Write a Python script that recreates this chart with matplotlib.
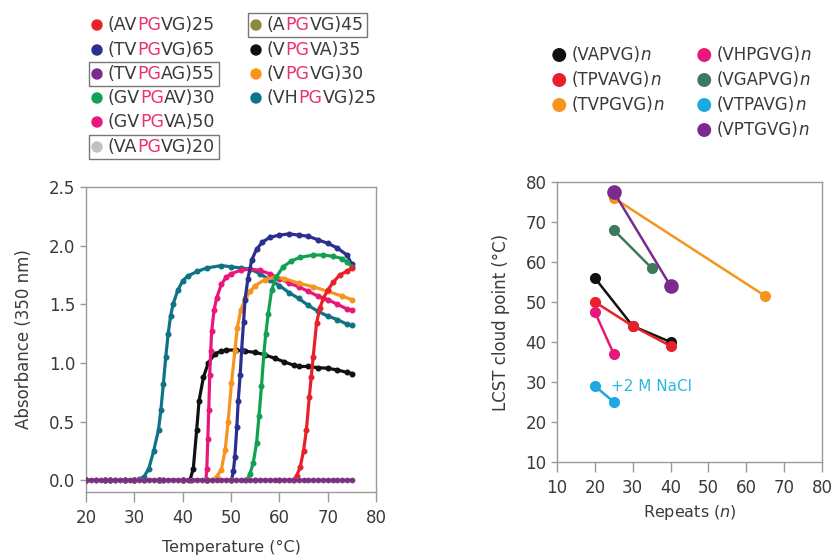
import matplotlib
matplotlib.use("Agg")
import matplotlib.pyplot as plt
from matplotlib.offsetbox import TextArea, HPacker, DrawingArea, AnnotationBbox
from matplotlib.patches import Circle

plt.rcParams['font.family'] = ['DejaVu Sans']

# ---------------- Data: left panel (absorbance vs temperature) ----------------
flat_T = [20, 21, 22, 23, 24, 25, 26, 27, 28, 29, 30, 31, 32, 33, 34, 35, 36, 37, 38, 39,
          40, 41, 42, 43, 44, 45, 46, 47, 48, 49, 50, 51, 52, 53, 54, 55, 56, 57, 58, 59,
          60, 61, 62, 63, 64, 65, 66, 67, 68, 69, 70, 71, 72, 73, 74, 75]
flat_A = [0.0] * len(flat_T)

teal_T = [20, 22, 24, 26, 28, 30, 31, 32, 33, 34, 35, 35.5, 36, 36.5, 37, 37.5, 38, 39, 40, 41,
          43, 45, 48, 50, 52, 54, 56, 58, 60, 62, 64, 66, 68, 70, 72, 74, 75]
teal_A = [0, 0, 0, 0, 0, 0, 0.01, 0.03, 0.1, 0.25, 0.43, 0.6, 0.82, 1.05, 1.25, 1.4, 1.5, 1.62, 1.7, 1.74,
          1.78, 1.81, 1.83, 1.82, 1.81, 1.8, 1.76, 1.71, 1.66, 1.6, 1.55, 1.49, 1.44, 1.4, 1.37, 1.33, 1.32]

black_T = [20, 24, 28, 32, 36, 40, 41.5, 42.2, 42.9, 43.4, 44.3, 45.3, 46.7, 48, 49, 51, 53, 55, 57, 59,
           61, 63, 64, 66, 68, 70, 72, 74, 75]
black_A = [0, 0, 0, 0, 0, 0, 0, 0.1, 0.43, 0.68, 0.88, 1.0, 1.08, 1.1, 1.11, 1.11, 1.1, 1.09, 1.07, 1.04,
           1.01, 0.98, 0.97, 0.97, 0.96, 0.955, 0.94, 0.92, 0.91]

pink_T = [20, 25, 30, 35, 40, 44.8, 45.0, 45.2, 45.4, 45.6, 45.8, 46, 46.5, 47, 48, 49, 50, 52, 54, 56,
          58, 60, 62, 64, 66, 68, 70, 72, 74, 75]
pink_A = [0, 0, 0, 0, 0, 0, 0.1, 0.35, 0.6, 0.9, 1.1, 1.27, 1.45, 1.55, 1.67, 1.73, 1.76, 1.79, 1.8, 1.79,
          1.76, 1.72, 1.68, 1.65, 1.61, 1.57, 1.54, 1.5, 1.46, 1.45]

orange_T = [20, 25, 30, 35, 40, 45, 46.3, 47, 48, 48.8, 49.4, 50.1, 50.8, 51.3, 52, 53, 54, 55, 57, 59,
            61, 64, 67, 70, 73, 75]
orange_A = [0, 0, 0, 0, 0, 0, 0, 0.03, 0.09, 0.26, 0.5, 0.83, 1.1, 1.3, 1.45, 1.55, 1.61, 1.66, 1.71, 1.73,
            1.72, 1.68, 1.65, 1.61, 1.57, 1.54]

blue_T = [20, 25, 30, 35, 40, 45, 50.1, 50.5, 50.8, 51.2, 51.5, 51.9, 52.2, 52.6, 52.9, 53.5, 54.3, 55.3,
          56.5, 58, 60, 62, 64, 66, 68, 70, 72, 74, 75]
blue_A = [0, 0, 0, 0, 0, 0, 0, 0.08, 0.2, 0.45, 0.68, 0.9, 1.11, 1.35, 1.54, 1.72, 1.88, 1.97,
          2.03, 2.07, 2.09, 2.1, 2.09, 2.08, 2.05, 2.02, 1.98, 1.92, 1.84]

green_T = [20, 25, 30, 35, 40, 45, 50, 53.2, 53.9, 54.6, 55.3, 55.8, 56.3, 56.8, 57.2, 57.7, 58.4, 59.3,
           60.8, 62.5, 64.3, 67, 69, 71, 73, 74, 75]
green_A = [0, 0, 0, 0, 0, 0, 0, 0, 0.05, 0.15, 0.32, 0.55, 0.8, 1.08, 1.25, 1.42, 1.62, 1.73,
           1.82, 1.87, 1.9, 1.92, 1.92, 1.91, 1.89, 1.86, 1.82]

red_T = [20, 25, 30, 35, 40, 45, 50, 55, 60, 62.9, 63.6, 64.3, 65, 65.6, 66.2, 66.6, 67, 67.7, 68.4,
         69.1, 70, 71.2, 72.5, 73.9, 75]
red_A = [0, 0, 0, 0, 0, 0, 0, 0, 0, 0, 0.04, 0.11, 0.25, 0.43, 0.71, 0.88, 1.05, 1.34, 1.47,
         1.55, 1.62, 1.69, 1.75, 1.78, 1.81]

# ---------------- Data: right panel (LCST vs repeats) ----------------
vapvg_n = [20, 30, 40];   vapvg_t = [56, 44, 40]
tpvavg_n = [20, 30, 40];  tpvavg_t = [50, 44, 39]
tvpgvg_n = [25, 65];      tvpgvg_t = [76, 51.5]
vhpgvg_n = [20, 25];      vhpgvg_t = [47.5, 37]
vgapvg_n = [25, 35];      vgapvg_t = [68, 58.5]
vtpavg_n = [20, 25];      vtpavg_t = [29, 25]
vptgvg_n = [25, 40];      vptgvg_t = [77.5, 54]

# colours
C_RED = '#e8202a'; C_NAVY = '#2b2f8f'; C_PURPLE = '#7b2a8f'; C_GREEN = '#12a150'
C_PINK = '#e8187a'; C_GRAY = '#c0c0c8'; C_OLIVE = '#8b8a3a'; C_BLACK = '#111111'
C_ORANGE = '#f7941d'; C_TEAL = '#0e7385'
C_GGRAY = '#3d7a5a'; C_SKY = '#1ca8e0'
TXT = '#3a3a3a'; PG = '#e8336b'; SPINE = '#9a9a9a'

fig = plt.figure(figsize=(8.35, 5.58), dpi=100)

# ---------------- Left panel ----------------
axL = fig.add_axes([86/835, 1-492/558, 290/835, 305/558])
curves = [
    (teal_T, teal_A, C_TEAL), (black_T, black_A, C_BLACK), (pink_T, pink_A, C_PINK),
    (orange_T, orange_A, C_ORANGE), (blue_T, blue_A, C_NAVY), (green_T, green_A, C_GREEN),
    (red_T, red_A, C_RED),
]
for T, A, c in curves:
    axL.plot(T, A, '-', color=c, lw=2.3, marker='o', ms=3.3, zorder=3)
for c in (C_GRAY, C_OLIVE, C_PURPLE):
    axL.plot(flat_T, flat_A, '-', color=c, lw=1.6, marker='o', ms=3.0, alpha=0.8, zorder=4)
axL.set_xlim(20, 80)
axL.set_ylim(-0.1, 2.5)
axL.set_xticks([20, 30, 40, 50, 60, 70, 80])
axL.set_yticks([0.0, 0.5, 1.0, 1.5, 2.0, 2.5])
axL.set_yticklabels(['0.0', '0.5', '1.0', '1.5', '2.0', '2.5'])
axL.set_xlabel('Temperature (°C)', fontsize=11.5, color=TXT)
axL.set_ylabel('Absorbance (350 nm)', fontsize=12, color=TXT)
axL.xaxis.set_label_coords(0.5, -0.157)
axL.yaxis.set_label_coords(-0.182, 0.5)

# ---------------- Right panel ----------------
axR = fig.add_axes([557/835, 1-462/558, 265/835, 280/558])
series = [
    (vapvg_n, vapvg_t, C_BLACK, 7), (tpvavg_n, tpvavg_t, C_RED, 7),
    (tvpgvg_n, tvpgvg_t, C_ORANGE, 7), (vhpgvg_n, vhpgvg_t, C_PINK, 7),
    (vgapvg_n, vgapvg_t, C_GGRAY, 7), (vtpavg_n, vtpavg_t, C_SKY, 7),
    (vptgvg_n, vptgvg_t, C_PURPLE, 9.5),
]
for n, t, c, ms in series:
    axR.plot(n, t, '-', color=c, lw=1.8, marker='o', ms=ms, zorder=3)
axR.text(24.3, 28.8, '+2 M NaCl', color='#2bb8e0', fontsize=11, va='center', ha='left')
axR.set_xlim(10, 80)
axR.set_ylim(10, 80)
axR.set_xticks([10, 20, 30, 40, 50, 60, 70, 80])
axR.set_yticks([10, 20, 30, 40, 50, 60, 70, 80])
axR.set_xlabel('Repeats ($\\it{n}$)', fontsize=11.5, color=TXT)
axR.set_ylabel('LCST cloud point (°C)', fontsize=12, color=TXT)
axR.xaxis.set_label_coords(0.5, -0.146)
axR.yaxis.set_label_coords(-0.178, 0.5)

for ax in (axL, axR):
    for s in ax.spines.values():
        s.set_color(SPINE)
        s.set_linewidth(1.0)
    ax.tick_params(axis='x', direction='out', length=7, width=1, color=SPINE,
                   labelsize=12, labelcolor=TXT, pad=5)
    ax.tick_params(axis='y', direction='out', length=4.5, width=1, color=SPINE,
                   labelsize=12, labelcolor=TXT, pad=3)
    ax.set_facecolor('white')

# ---------------- Legends ----------------
def entry(x, y, color, parts, boxed=False, dsize=7.2, fs=12.5, sep=4.3):
    da = DrawingArea(dsize, dsize, 0, 0)
    da.add_artist(Circle((dsize/2, dsize/2), dsize/2, color=color))
    texts = [TextArea(t, textprops=dict(color=c, fontsize=fs, style=st))
             for t, c, st in parts]
    tb = HPacker(children=texts, align='baseline', pad=0, sep=0)
    box = HPacker(children=[da, tb], align='center', pad=0, sep=sep)
    ab = AnnotationBbox(box, (x, 558 - y), xycoords='figure pixels',
                        box_alignment=(0, 0.5), frameon=boxed, pad=0.25,
                        bboxprops=dict(edgecolor='#777777', linewidth=1.0,
                                       boxstyle='square,pad=0.25'))
    fig.add_artist(ab)

def pg(pre, post):
    return [(pre, TXT, 'normal'), ('PG', PG, 'normal'), (post, TXT, 'normal')]

left_legend = [
    (92, 25, C_RED, pg('(AV', 'VG)25'), False),
    (92, 50, C_NAVY, pg('(TV', 'VG)65'), False),
    (92, 74, C_PURPLE, pg('(TV', 'AG)55'), True),
    (92, 98, C_GREEN, pg('(GV', 'AV)30'), False),
    (92, 122, C_PINK, pg('(GV', 'VA)50'), False),
    (92, 147, C_GRAY, pg('(VA', 'VG)20'), True),
    (251, 25, C_OLIVE, pg('(A', 'VG)45'), True),
    (251, 50, C_BLACK, pg('(V', 'VA)35'), False),
    (251, 74, C_ORANGE, pg('(V', 'VG)30'), False),
    (251, 98, C_TEAL, pg('(VH', 'VG)25'), False),
]
for x, y, c, parts, boxed in left_legend:
    entry(x, y, c, parts, boxed)

def nlab(name):
    return [(name, TXT, 'normal'), ('n', TXT, 'italic')]

right_legend = [
    (553, 55, C_BLACK, nlab('(VAPVG)')),
    (553, 80, C_RED, nlab('(TPVAVG)')),
    (553, 105, C_ORANGE, nlab('(TVPGVG)')),
    (698, 55, C_PINK, nlab('(VHPGVG)')),
    (698, 80, C_GGRAY, nlab('(VGAPVG)')),
    (698, 105, C_SKY, nlab('(VTPAVG)')),
    (698, 130, C_PURPLE, nlab('(VPTGVG)')),
]
for x, y, c, parts in right_legend:
    entry(x, y, c, parts, False, dsize=9, fs=12, sep=4.5)

fig.savefig('out.png', dpi=100, facecolor='white')
